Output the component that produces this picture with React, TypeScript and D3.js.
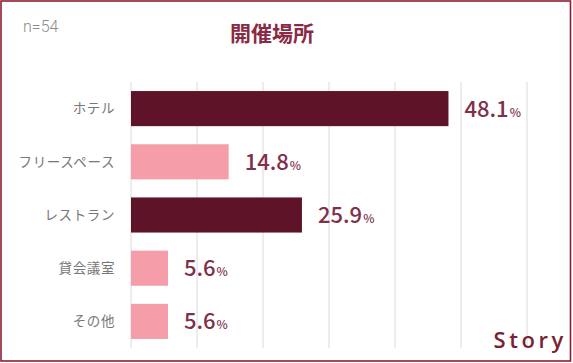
import React from "react";
import * as d3 from "d3";

const categories = ["ホテル", "フリースペース", "レストラン", "貸会議室", "その他"];
const values = [48.1, 14.8, 25.9, 5.6, 5.6];
const highlight = [true, false, true, false, false];
const xTicks = [0, 10, 20, 30, 40, 50, 60];
const title = "開催場所";
const nLabel = "n=54";
const brand = "Story";

const W = 573;
const H = 363;

export default function App() {
  const x = d3.scaleLinear().domain([0, 60]).range([131, 527]);
  const y = d3
    .scaleBand<string>()
    .domain(categories)
    .range([82, 348])
    .paddingInner(0.34)
    .paddingOuter(0.17);
  const font = "'Noto Sans CJK JP', 'Noto Sans', sans-serif";
  return (
    <div style={{ position: "absolute", left: 0, top: 0 }}>
      <svg width={W} height={H} style={{ display: "block", background: "#fff" }}>
        <rect x={1} y={1} width={569.5} height={360} fill="#fff" stroke="#8a1f33" strokeWidth={1.6} />
        <text x={23} y={32} fontFamily="Roboto, sans-serif" fontSize={16} fill="#8c8c8c" fontWeight={300}>
          {nLabel}
        </text>
        <text x={272} y={41} textAnchor="middle" fontFamily={font} fontSize={21} fontWeight={700} fill="#8a2a45">
          {title}
        </text>
        {xTicks.map((t) => (
          <line key={t} x1={x(t)} x2={x(t)} y1={82} y2={348} stroke="#dadada" strokeWidth={1} />
        ))}
        {categories.map((c, i) => {
          const yy = y(c)!;
          const bw = y.bandwidth();
          const xe = x(values[i]);
          return (
            <g key={c}>
              <rect x={x(0)} y={yy} width={xe - x(0)} height={bw} fill={highlight[i] ? "#5f1329" : "#f59ea9"} />
              <text x={115} y={yy + bw / 2} dy="0.35em" textAnchor="end" fontFamily={font} fontSize={13.5} letterSpacing={0.6} fill="#777">
                {c}
              </text>
              <text x={xe + 16} y={yy + bw / 2 + 8} fontFamily={font} fontWeight={500} fill="#7f2f4a">
                <tspan fontSize={22}>{values[i].toFixed(1)}</tspan>
                <tspan fontSize={12} dx={1}>%</tspan>
              </text>
            </g>
          );
        })}
        <text x={567} y={348} textAnchor="end" fontFamily="'Open Sans', sans-serif" fontSize={22} fontWeight={600} letterSpacing={3.6} fill="#7a1f33">
          {brand}
        </text>
      </svg>
    </div>
  );
}
